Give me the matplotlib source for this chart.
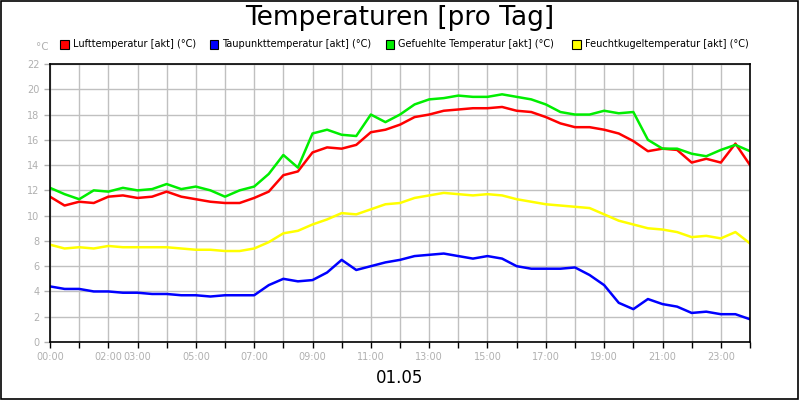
import matplotlib
matplotlib.use("Agg")
import matplotlib.pyplot as plt
from matplotlib.patches import Rectangle
import numpy as np

# half-hourly readings, 00:00 .. 24:00
hours = np.arange(0, 24.5, 0.5)
luft = [11.5, 10.8, 11.1, 11.0, 11.5, 11.6, 11.4, 11.5, 11.9, 11.5, 11.3, 11.1, 11.0, 11.0,
        11.4, 11.9, 13.2, 13.5, 15.0, 15.4, 15.3, 15.6, 16.6, 16.8, 17.2, 17.8, 18.0, 18.3,
        18.4, 18.5, 18.5, 18.6, 18.3, 18.2, 17.8, 17.3, 17.0, 17.0, 16.8, 16.5, 15.9, 15.1,
        15.3, 15.2, 14.2, 14.5, 14.2, 15.7, 14.0]
taupunkt = [4.4, 4.2, 4.2, 4.0, 4.0, 3.9, 3.9, 3.8, 3.8, 3.7, 3.7, 3.6, 3.7, 3.7,
            3.7, 4.5, 5.0, 4.8, 4.9, 5.5, 6.5, 5.7, 6.0, 6.3, 6.5, 6.8, 6.9, 7.0,
            6.8, 6.6, 6.8, 6.6, 6.0, 5.8, 5.8, 5.8, 5.9, 5.3, 4.5, 3.1, 2.6, 3.4,
            3.0, 2.8, 2.3, 2.4, 2.2, 2.2, 1.8]
gefuehlt = [12.2, 11.7, 11.3, 12.0, 11.9, 12.2, 12.0, 12.1, 12.5, 12.1, 12.3, 12.0, 11.5, 12.0,
            12.3, 13.3, 14.8, 13.8, 16.5, 16.8, 16.4, 16.3, 18.0, 17.4, 18.0, 18.8, 19.2, 19.3,
            19.5, 19.4, 19.4, 19.6, 19.4, 19.2, 18.8, 18.2, 18.0, 18.0, 18.3, 18.1, 18.2, 16.0,
            15.3, 15.3, 14.9, 14.7, 15.2, 15.6, 15.1]
feucht = [7.7, 7.4, 7.5, 7.4, 7.6, 7.5, 7.5, 7.5, 7.5, 7.4, 7.3, 7.3, 7.2, 7.2,
          7.4, 7.9, 8.6, 8.8, 9.3, 9.7, 10.2, 10.1, 10.5, 10.9, 11.0, 11.4, 11.6, 11.8,
          11.7, 11.6, 11.7, 11.6, 11.3, 11.1, 10.9, 10.8, 10.7, 10.6, 10.1, 9.6, 9.3, 9.0,
          8.9, 8.7, 8.3, 8.4, 8.2, 8.7, 7.8]

series = [
    ("Lufttemperatur [akt] (°C)", luft, "#ff0000"),
    ("Taupunkttemperatur [akt] (°C)", taupunkt, "#0000ff"),
    ("Gefuehlte Temperatur [akt] (°C)", gefuehlt, "#00ee00"),
    ("Feuchtkugeltemperatur [akt] (°C)", feucht, "#ffff00"),
]
tick_hours = [0, 2, 3, 5, 7, 9, 11, 13, 15, 17, 19, 21, 23]

fig = plt.figure(figsize=(8, 4), dpi=100)
fig.patches.append(Rectangle((0.001, 0.002), 0.997, 0.995, transform=fig.transFigure,
                             fill=False, edgecolor="black", linewidth=1.2))
ax = fig.add_axes([0.0625, 0.145, 0.875, 0.695])

for label, vals, c in series:
    ax.plot(hours, vals, color=c, linewidth=1.8, label=label)

ax.set_xlim(0, 24)
ax.set_ylim(0, 22)
ax.set_yticks(range(0, 23, 2))
ax.set_xticks(range(0, 25))
ax.set_xticklabels([f"{h:02d}:00" if h in tick_hours else "" for h in range(0, 25)])
ax.grid(True, color="#c0c0c0", linewidth=1)
ax.tick_params(colors="#b0b0b0", labelsize=7, length=4, width=1)
ax.tick_params(axis="x", color="black")
for s in ax.spines.values():
    s.set_color("black")
    s.set_linewidth(1.2)

fig.text(0.5, 0.955, "Temperaturen [pro Tag]", ha="center", va="center", fontsize=19)
fig.text(0.5, 0.055, "01.05", ha="center", va="center", fontsize=12)
fig.text(0.053, 0.883, "°C", ha="center", va="center", fontsize=7.5, color="#b0b0b0")

xs = [0.075, 0.262, 0.482, 0.715]
for x, (label, _, c) in zip(xs, series):
    fig.patches.append(Rectangle((x, 0.878), 0.011, 0.022, transform=fig.transFigure,
                                 facecolor=c, edgecolor="black", linewidth=0.8))
    fig.text(x + 0.016, 0.889, label, va="center", fontsize=7)

fig.savefig("out.png", dpi=100)
